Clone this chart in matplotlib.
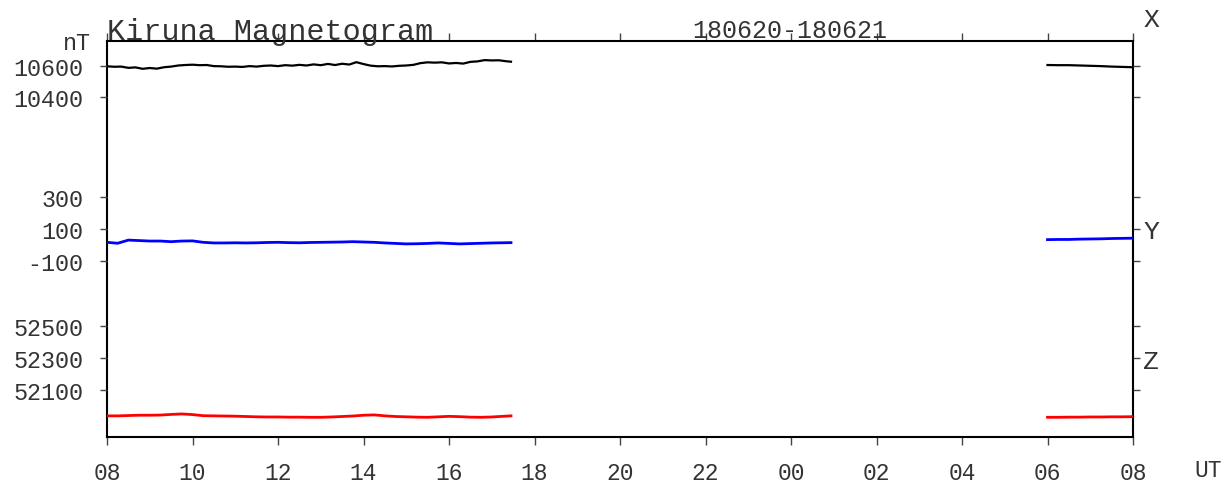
import numpy as np
import matplotlib
matplotlib.use("Agg")
import matplotlib.pyplot as plt

plt.rcParams["font.family"] = ["Liberation Mono", "DejaVu Sans Mono"]

# ---------- data: minutes after 08 UT on 2018-06-20 ----------
TX1 = [0, 10, 20, 30, 40, 50, 60, 70, 80, 90, 100, 110, 120, 130, 140, 150, 160, 170,
       180, 190, 200, 210, 220, 230, 240, 250, 260, 270, 280, 290, 300, 310, 320, 330,
       340, 350, 360, 370, 380, 390, 400, 410, 420, 430, 440, 450, 460, 470, 480, 490,
       500, 510, 520, 530, 540, 550, 560, 567]
X1 = [10596, 10593, 10594, 10586, 10589, 10580, 10585, 10581, 10590, 10594, 10601, 10604,
      10606, 10603, 10604, 10597, 10596, 10593, 10594, 10592, 10597, 10594, 10599, 10601,
      10597, 10603, 10600, 10605, 10601, 10608, 10603, 10611, 10604, 10612, 10607, 10622,
      10610, 10600, 10596, 10597, 10595, 10599, 10601, 10605, 10616, 10621, 10619, 10621,
      10614, 10617, 10613, 10624, 10627, 10635, 10633, 10634, 10628, 10625]

T1 = [0, 15, 30, 45, 60, 75, 90, 105, 120, 135, 150, 165, 180, 195, 210, 225, 240, 255,
      270, 285, 300, 315, 330, 345, 360, 375, 390, 405, 420, 435, 450, 465, 480, 495,
      510, 525, 540, 555, 567]
Y1 = [16, 10, 30, 27, 24, 24, 20, 24, 25, 16, 12, 12, 13,
      12, 13, 15, 16, 14, 13, 15, 16, 17, 18, 20, 18, 16,
      12, 9, 6, 7, 9, 12, 9, 6, 8, 10, 12, 13, 14]
Z1 = [51941, 51941, 51943, 51945, 51945, 51946, 51950, 51953, 51949, 51942, 51941, 51940,
      51939, 51937, 51935, 51934, 51934, 51933, 51933, 51932, 51932, 51934, 51937, 51940,
      51945, 51947, 51941, 51937, 51935, 51933, 51932, 51935, 51938, 51936, 51933, 51932,
      51934, 51938, 51941]

# 06-08 UT on 2018-06-21
T2 = [1320, 1335, 1350, 1365, 1380, 1395, 1410, 1425, 1440]
X2 = [10604, 10603, 10603, 10601, 10599, 10597, 10594, 10592, 10590]
Y2 = [33, 34, 34, 36, 37, 38, 40, 41, 42]
Z2 = [51932, 51932, 51933, 51933, 51934, 51934, 51935, 51935, 51936]

XTICKS = [0, 120, 240, 360, 480, 600, 720, 840, 960, 1080, 1200, 1320, 1440]
XLABELS = ["08", "10", "12", "14", "16", "18", "20", "22", "00", "02", "04", "06", "08"]

PANELS = [
    # name, t day1, day1, day2, colour, line width, ticks, labels, ylim
    ("X", TX1, X1, X2, "black", 1.6, [10400, 10600, 10800], ["10400", "10600", ""], (8253, 10756)),
    ("Y", T1, Y1, Y2, "#0000ff", 2.0, [-100, 100, 300], ["-100", "100", "300"], (-1209, 1286)),
    ("Z", T1, Z1, Z2, "#ff0000", 2.0, [52100, 52300, 52500], ["52100", "52300", "52500"], (51812, 54284)),
]

W, H = 1225, 485
fig = plt.figure(figsize=(W / 100, H / 100), dpi=100)
rect = [107 / W, (H - 437.5) / H, (1133 - 107) / W, (437.5 - 42) / H]
TXT = "#333333"

ax = fig.add_axes(rect)
ax.set_xlim(0, 1440)
ax.set_ylim(0, 1)
ax.set_yticks([])
ax.set_xticks(XTICKS)
ax.set_xticklabels(XLABELS, fontsize=16.5, color=TXT)
ax.tick_params(axis="x", direction="out", length=6, width=1, color="#444444",
               top=True, pad=12)
for s in ax.spines.values():
    s.set_linewidth(1.5)

for name, t1, d1, d2, col, lw, ticks, labels, lim in PANELS:
    a = fig.add_axes(rect, sharex=ax)
    a.patch.set_visible(False)
    for s in a.spines.values():
        s.set_visible(False)
    a.plot(t1, d1, color=col, lw=lw)
    a.plot(T2, d2, color=col, lw=lw)
    a.set_yticks(ticks)
    a.set_yticklabels(labels, fontsize=16.8, color=TXT)
    a.set_ylim(*lim)
    a.tick_params(axis="y", direction="out", length=5, width=1, color="#444444",
                  right=True, pad=12, labelright=False)
    a.tick_params(axis="x", bottom=False, labelbottom=False)

fig.text(107 / W, 1 - 40 / H, "Kiruna Magnetogram", fontsize=21.7, color=TXT,
         ha="left", va="baseline")
fig.text(790 / W, 1 - 38 / H, "180620-180621", fontsize=18, color=TXT,
         ha="center", va="baseline")
fig.text(91 / W, 1 - 50 / H, "nT", fontsize=16.8, color=TXT, ha="right", va="baseline")
fig.text(1208 / W, 1 - 471 / H, "UT", fontsize=16.5, color=TXT, ha="center", va="center")
for lab, yy in [("X", 20), ("Y", 232), ("Z", 362)]:
    fig.text(1151 / W, 1 - yy / H, lab, fontsize=19, color=TXT, ha="center", va="center")

fig.savefig("out.png", dpi=100)
